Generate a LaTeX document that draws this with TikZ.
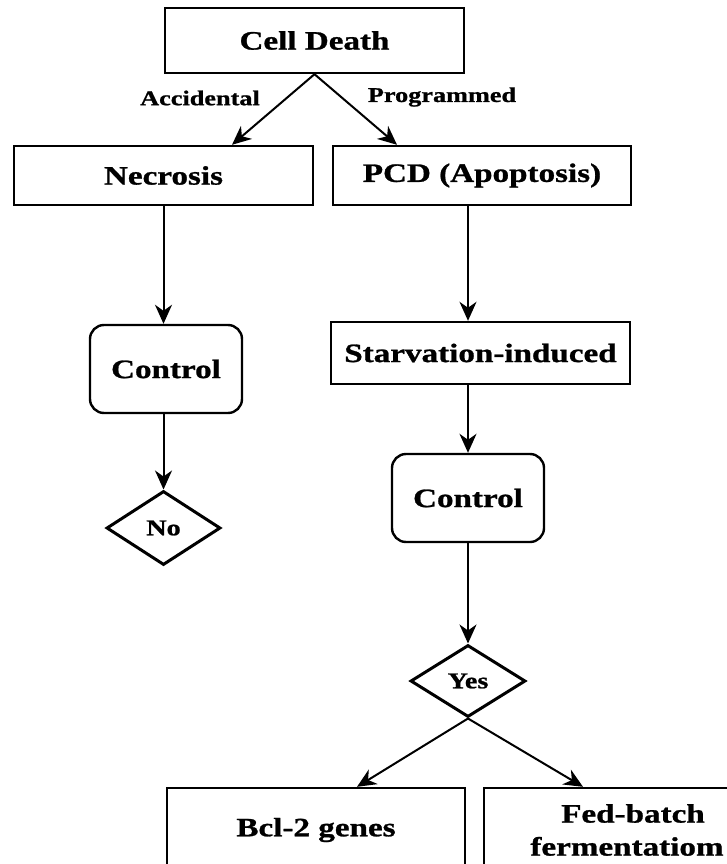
\documentclass[tikz,border=0pt]{standalone}
\usepackage{fontspec}
\setmainfont{Liberation Serif}[FakeStretch=1.25, BoldFeatures={FakeBold=1}]
\usetikzlibrary{arrows.meta,shapes.geometric}
\tikzset{
  box/.style={draw, line width=2.4pt, rectangle, inner sep=0pt, align=center,
    font=\fontsize{26.5}{33}\selectfont\bfseries},
  rbox/.style={box, rounded corners=14pt},
  dia/.style={draw, line width=3pt, diamond, inner sep=0pt,
    font=\fontsize{22.5}{24}\selectfont\bfseries},
  lbl/.style={inner sep=0pt, font=\fontsize{21}{24}\selectfont\bfseries},
  arr/.style={line width=2pt, -{Stealth[length=19pt,width=17pt,inset=6pt]}},
}
\begin{document}
\begin{tikzpicture}[x=1pt,y=-1pt]
\useasboundingbox (0,0) rectangle (727,864);
\clip (0,0) rectangle (727,864);
% nodes
\node[box, minimum width=299pt, minimum height=65pt] (cd) at (314.5,40.5) {Cell Death};
\node[box, minimum width=299pt, minimum height=59pt] (nec) at (163.5,175.5) {Necrosis};
\node[box, minimum width=298pt, minimum height=59pt] (pcd) at (482,175.5) {PCD (Apoptosis)};
\node[rbox, minimum width=152pt, minimum height=88pt] (ctl1) at (166,369) {Control};
\node[dia, minimum width=114pt, minimum height=74pt] (no) at (163.5,528) {No};
\node[box, minimum width=299pt, minimum height=62pt] (starv) at (480.5,353) {Starvation-induced};
\node[rbox, minimum width=152pt, minimum height=88pt] (ctl2) at (468,498) {Control};
\node[dia, minimum width=115pt, minimum height=72pt] (yes) at (468,681) {Yes};
\node[box, minimum width=298pt, minimum height=84pt] (bcl) at (316,830) {Bcl-2 genes};
\node[box, minimum width=298pt, minimum height=84pt] (fed) at (633,830) {Fed-batch\\fermentatiom\hspace*{12pt}};
% labels
\node[lbl] (acc) at (200,98) {Accidental};
\node[lbl] (prog) at (442,97) {Programmed};
% connectors
\draw[arr] (cd.south) -- ([xshift=68.5pt]nec.north);
\draw[arr] (cd.south) -- ([xshift=-85pt]pcd.north);
\draw[arr] (nec.south) -- (nec.south |- ctl1.north);
\draw[arr] (nec.south |- ctl1.south) -- (no.north);
\draw[arr] (ctl2.north |- pcd.south) -- (ctl2.north |- starv.north);
\draw[arr] (ctl2.north |- starv.south) -- (ctl2.north);
\draw[arr] (ctl2.south) -- (yes.north);
\draw[arr] (yes.south) -- ([xshift=41pt]bcl.north);
\draw[arr] (yes.south) -- ([xshift=-50pt]fed.north);
\end{tikzpicture}
\end{document}
